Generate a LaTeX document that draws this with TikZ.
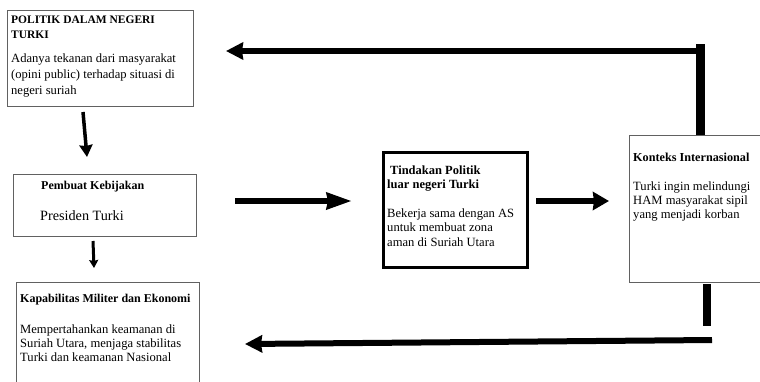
\documentclass[tikz,border=0pt]{standalone}
\usepackage{fontspec}
\setmainfont{Liberation Serif}
\usetikzlibrary{arrows.meta}
\begin{document}
\begin{tikzpicture}[x=1pt,y=-1pt,
  box/.style={draw=black!62, line width=0.9pt, inner sep=0pt, anchor=north west},
  thickbox/.style={draw=black, line width=3pt, inner sep=0pt, anchor=north west},
  ttl/.style={inner sep=0pt, anchor=north west, align=left, font=\fontsize{12}{15}\selectfont\bfseries},
  body/.style={inner sep=0pt, anchor=north west, align=left, font=\fontsize{12.6}{16}\selectfont},
  conn/.style={line width=6pt},
  bar/.style={line width=9pt},
  small/.style={line width=3.5pt}
]
\clip (0,0) rectangle (760,381);
\fill[white] (0,0) rectangle (760,381);

% boxes
\node[box, minimum width=186pt, minimum height=96pt] (pol) at (7,10) {};
\node[box, minimum width=183pt, minimum height=62pt] (pem) at (13,174) {};
\node[box, minimum width=183pt, minimum height=113pt] (kap) at (16,282) {};
\node[thickbox, minimum width=144pt, minimum height=115pt] (tin) at (381.5,150.5) {};
\node[box, minimum width=143pt, minimum height=147pt] (kon) at (629,135) {};

% texts
\node[ttl, font=\fontsize{11.5}{15}\selectfont\bfseries] (polt) at (11,15.2) {POLITIK DALAM NEGERI\\TURKI};
\node[body] (polb) at (11,53.4) {Adanya tekanan dari masyarakat\\(opini public) terhadap situasi di\\negeri suriah};

\node[ttl] (pemt) at (41,180.8) {Pembuat Kebijakan};
\node[body, font=\fontsize{14.2}{17}\selectfont] (pemb) at (40,210.3) {Presiden Turki};

\node[ttl] (kapt) at (20,293.8) {Kapabilitas Militer dan Ekonomi};
\node[body, font=\fontsize{12.6}{14}\selectfont] (kapb) at (20,324.4) {Mempertahankan keamanan di\\Suriah Utara, menjaga stabilitas\\Turki dan keamanan Nasional};

\node[ttl, font=\fontsize{12.5}{14}\selectfont\bfseries] (tint) at (387,165.5) {\hspace{3pt}Tindakan Politik\\luar negeri Turki};
\node[body, font=\fontsize{12.6}{14.5}\selectfont] (tinb) at (387,208.4) {Bekerja sama dengan AS\\untuk membuat zona\\aman di Suriah Utara};

\node[ttl, font=\fontsize{12.2}{15}\selectfont\bfseries] (kont) at (633,152.7) {Konteks Internasional};
\node[body, font=\fontsize{12.6}{14}\selectfont] (konb) at (633,181.4) {Turki ingin melindungi\\HAM masyarakat sipil\\yang menjadi korban};

% connector coordinates
\coordinate (topc) at (700,44);
\coordinate (toptip) at (226,51);
\coordinate (b1) at (707,284);
\coordinate (b2) at (707,326);
\coordinate (b3) at (712,340);
\coordinate (botip) at (245,344);
\coordinate (m1s) at (235,201);
\coordinate (m1e) at (352,201);
\coordinate (m2s) at (536,201);
\coordinate (m2e) at (609,201);
\coordinate (a1s) at (83,112);
\coordinate (a1e) at (87,157);
\coordinate (a2s) at (93,241);
\coordinate (a2e) at (94,268);

% connectors
\draw[bar] (kon.north -| topc) -- (topc);
\draw[conn, -{Stealth[length=17pt,width=17pt,inset=1pt]}] (topc |- toptip) -- (toptip);
\draw[line width=8pt] (b1) -- (b2);
\draw[conn, -{Stealth[length=17pt,width=17pt,inset=1pt]}] (b3) -- (botip);
\draw[conn, -{Stealth[length=25pt,width=16pt,inset=1pt]}] (m1s) -- (m1e);
\draw[conn, -{Stealth[length=16pt,width=18pt,inset=1pt]}] (m2s) -- (m2e);
\draw[small, -{Stealth[length=12pt,width=13pt,inset=1pt]}] (a1s) -- (a1e);
\draw[line width=3pt, -{Stealth[length=8pt,width=9pt,inset=1pt]}] (a2s) -- (a2e);
\end{tikzpicture}
\end{document}
